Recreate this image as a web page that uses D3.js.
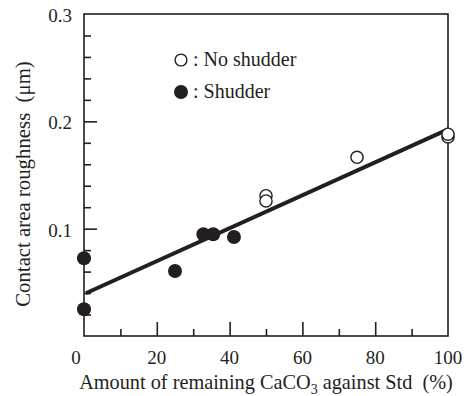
<!DOCTYPE html>
<html>
<head>
<meta charset="utf-8">
<script src="https://cdn.jsdelivr.net/npm/d3@7/dist/d3.min.js"></script>
<style>
  html, body { margin: 0; padding: 0; background: #fff; }
  svg { display: block; }
  text { font-family: "Liberation Serif", "Times New Roman", serif; fill: #231f20; }
</style>
</head>
<body>
<svg id="chart" width="470" height="396"></svg>
<script>
// Remaining CaCO3 (% of standard) vs. contact area roughness (µm)
const noShudderX = [50, 50, 75, 100, 100];
const noShudderY = [0.1307, 0.1258, 0.1665, 0.1855, 0.1880];
const shudderX = [0, 0, 25, 32.8, 35.5, 41.2];
const shudderY = [0.0724, 0.0249, 0.0606, 0.0948, 0.0948, 0.0922];

// Fitted trend line end points
const fitX = [0.5, 100];
const fitY = [0.0398, 0.1925];

const xTickValues = [0, 20, 40, 60, 80, 100];
const xMinorValues = [10, 20, 30, 40, 50, 60, 70, 80, 90];
const yTickValues = [0.1, 0.2, 0.3];
const yMinorValues = [0.02, 0.04, 0.06, 0.08, 0.1, 0.12, 0.14, 0.16, 0.18, 0.2, 0.22, 0.24, 0.26, 0.28];

const ink = "#231f20";
const svg = d3.select("#chart");
const plotL = 84, plotR = 448, plotT = 14, plotB = 336;

const x = d3.scaleLinear().domain([0, 100]).range([plotL, plotR]);
const y = d3.scaleLinear().domain([0, 0.3]).range([plotB, plotT]);

// Frame
svg.append("rect")
  .attr("x", plotL).attr("y", plotT)
  .attr("width", plotR - plotL).attr("height", plotB - plotT)
  .attr("fill", "none").attr("stroke", ink).attr("stroke-width", 1.6);

const isMajorX = v => v % 20 === 0;
const isMajorY = v => Math.abs(v * 10 - Math.round(v * 10)) < 1e-9;

// Inward ticks on the bottom axis
const xAxis = d3.axisBottom(x).tickValues(xMinorValues).tickFormat("").tickSizeOuter(0);
const gx = svg.append("g").attr("transform", `translate(0,${plotB})`).call(xAxis);
gx.select(".domain").remove();
gx.selectAll(".tick line")
  .attr("stroke", ink).attr("stroke-width", 1.6)
  .attr("y2", d => isMajorX(d) ? -14 : -7);

// Inward ticks on the left axis
const yAxis = d3.axisLeft(y).tickValues(yMinorValues).tickFormat("").tickSizeOuter(0);
const gy = svg.append("g").attr("transform", `translate(${plotL},0)`).call(yAxis);
gy.select(".domain").remove();
gy.selectAll(".tick line")
  .attr("stroke", ink).attr("stroke-width", 1.6)
  .attr("x2", d => isMajorY(d) ? 13 : 7);

// Tick labels
svg.append("g").selectAll("text").data(xTickValues).join("text")
  .attr("x", d => x(d) + (d === 0 ? -8 : 0))
  .attr("y", 364)
  .attr("text-anchor", "middle")
  .attr("font-size", 19)
  .text(d => d);

svg.append("g").selectAll("text").data(yTickValues).join("text")
  .attr("x", 72)
  .attr("y", d => y(d) + 8)
  .attr("text-anchor", "end")
  .attr("font-size", 19)
  .text(d => d.toFixed(1));

// Axis titles
const xt = svg.append("text")
  .attr("x", (plotL + plotR) / 2).attr("y", 389)
  .attr("text-anchor", "middle").attr("font-size", 20.3)
  .attr("xml:space", "preserve");
xt.append("tspan").text("Amount of remaining CaCO");
xt.append("tspan").attr("font-size", 14).attr("dy", 5).text("3");
xt.append("tspan").attr("dy", -5).text(" against Std  (%)");

svg.append("text")
  .attr("transform", "translate(30,184) rotate(-90)")
  .attr("text-anchor", "middle").attr("font-size", 20.8)
  .attr("xml:space", "preserve")
  .text("Contact area roughness  (\u03bcm)");

// Trend line
svg.append("path")
  .datum(d3.zip(fitX, fitY))
  .attr("d", d3.line().x(d => x(d[0])).y(d => y(d[1])))
  .attr("stroke", ink).attr("stroke-width", 4).attr("fill", "none");

// Shudder (filled) points
svg.append("g").selectAll("circle").data(d3.zip(shudderX, shudderY)).join("circle")
  .attr("cx", d => x(d[0])).attr("cy", d => y(d[1]))
  .attr("r", 7).attr("fill", ink);

// No-shudder (open) points
svg.append("g").selectAll("circle").data(d3.zip(noShudderX, noShudderY)).join("circle")
  .attr("cx", d => x(d[0])).attr("cy", d => y(d[1]))
  .attr("r", 6.1).attr("fill", "#fff").attr("stroke", ink).attr("stroke-width", 1.4);

// Legend
const legend = [
  { label: ": No shudder", open: true },
  { label: ": Shudder", open: false }
];
const lg = svg.append("g").selectAll("g").data(legend).join("g")
  .attr("transform", (d, i) => `translate(181,${60 + i * 32})`);
lg.append("circle")
  .attr("r", d => d.open ? 5.9 : 7)
  .attr("fill", d => d.open ? "#fff" : ink)
  .attr("stroke", ink).attr("stroke-width", d => d.open ? 1.4 : 0);
lg.append("text")
  .attr("x", 12).attr("y", 6)
  .attr("font-size", 20)
  .text(d => d.label);
</script>
</body>
</html>
